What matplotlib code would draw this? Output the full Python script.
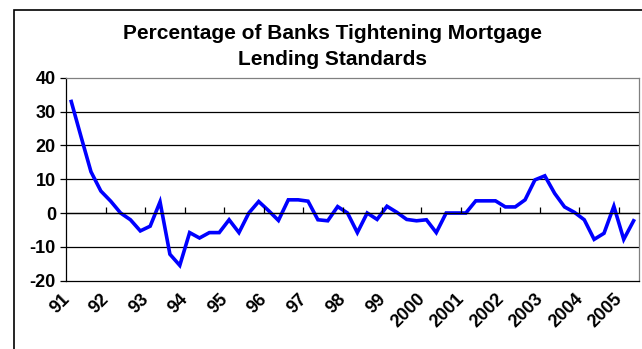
import matplotlib
matplotlib.use("Agg")
import matplotlib.pyplot as plt
from matplotlib.patches import Rectangle
from matplotlib.transforms import ScaledTranslation

plt.rcParams['font.family'] = ['Liberation Sans', 'DejaVu Sans']

title = "Percentage of Banks Tightening Mortgage\nLending Standards"
year_labels = ["91", "92", "93", "94", "95", "96", "97", "98", "99",
               "2000", "2001", "2002", "2003", "2004", "2005"]
# quarterly, 1991Q1 .. 2005Q2
pct_tightening = [33, 22.5, 12.2, 6.5, 3.5, 0, -2, -5.3, -3.9, 3.3,
                  -12.2, -15.5, -5.8, -7.4, -5.8, -5.8, -2, -5.8, 0, 3.4,
                  0.7, -2.2, 3.9, 3.9, 3.5, -2, -2.3, 1.9, 0, -5.8,
                  0, -1.9, 2, 0.2, -1.9, -2.3, -2, -5.8, 0, 0,
                  0, 3.6, 3.6, 3.6, 1.8, 1.8, 3.9, 9.8, 11, 5.8,
                  1.8, 0.2, -2, -7.8, -6, 2, -7.8, -2.3]
y_ticks = [-20, -10, 0, 10, 20, 30, 40]

fig = plt.figure(figsize=(6.42, 3.49), dpi=100)
ax = fig.add_axes([0.1033, 0.196, 0.8913, 0.581])

x = list(range(len(pct_tightening)))
ax.plot(x, pct_tightening, color="#0000ff", lw=2.6, solid_joinstyle="miter", zorder=3)

ax.set_xlim(-0.5, len(pct_tightening) - 0.5)
ax.set_ylim(-20, 40)
ax.set_yticks(y_ticks)
ax.set_yticklabels([str(v) for v in y_ticks], fontsize=13, fontweight="bold")
ax.tick_params(axis="y", direction="out", length=4.5, width=0.9, pad=3)
for v in y_ticks[1:-1]:
    ax.axhline(v, color="black", lw=0.9, zorder=1)

# year labels under the plot, ticks removed here
ax.set_xticks(x[::4])
ax.set_xticklabels(year_labels, rotation=45, ha="right", va="top",
                   rotation_mode="anchor", fontsize=13, fontweight="bold")
ax.tick_params(axis="x", length=0, pad=7)
shift = ScaledTranslation(-10 / 100, 0, fig.dpi_scale_trans)
for lab in ax.get_xticklabels():
    lab.set_transform(lab.get_transform() + shift)

for s in ("top", "right"):
    ax.spines[s].set_color("#808080")
    ax.spines[s].set_linewidth(0.9)
ax.spines["left"].set_linewidth(0.9)
ax.spines["bottom"].set_linewidth(0.9)

# category axis crossing at zero, with tick marks between years
ax2 = ax.twiny()
ax2.set_xlim(ax.get_xlim())
ax2.spines["bottom"].set_position(("data", 0))
ax2.xaxis.set_ticks_position("bottom")
ax2.set_xticks([k - 0.5 for k in x[4::4]])
ax2.set_xticklabels([])
ax2.tick_params(axis="x", direction="in", length=4.5, width=0.9)
for s in ("top", "right", "left"):
    ax2.spines[s].set_visible(False)
ax2.spines["bottom"].set_linewidth(0.9)

fig.text(0.518, 0.867, title, ha="center", va="center", fontsize=15,
         fontweight="bold", linespacing=1.45)

fig.patches.append(Rectangle((14 / 642, -0.1), 1.5, 1.1 - 10 / 349,
                             transform=fig.transFigure, fill=False,
                             edgecolor="black", lw=1.2))

fig.savefig("out.png", dpi=100)
